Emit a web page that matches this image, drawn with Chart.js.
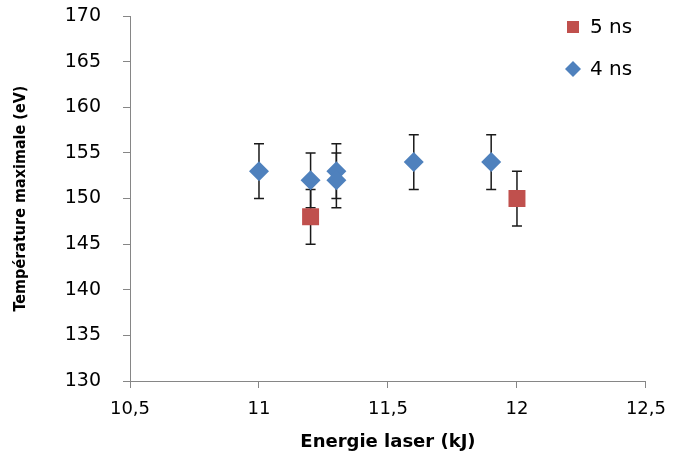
<!DOCTYPE html>
<html>
<head>
<meta charset="utf-8">
<script src="https://cdn.jsdelivr.net/npm/chart.js@4.4.0/dist/chart.umd.min.js"></script>
<style>
  html, body { margin: 0; padding: 0; background: #fff; }
  #wrap { width: 677px; height: 459px; position: relative; }
</style>
</head>
<body>
<div id="wrap"><canvas id="graf"></canvas></div>
<script>
// Données
const serieNoms = ["5 ns", "4 ns"];
const energie5ns = [11.2, 12];
const temp5ns = [148, 150];
const err5ns = [3, 3];
const energie4ns = [11, 11.2, 11.3, 11.3, 11.6, 11.9];
const temp4ns = [153, 152, 153, 152, 154, 154];
const err4ns = [3, 3, 3, 3, 3, 3];

const rouge = "#C0504D", bleu = "#4F81BD", gris = "#868686";

const pts = (xs, ys, es) => xs.map((x, i) => ({ x, y: ys[i], e: es[i] }));

// barres d'erreur, dessinées sous les marqueurs
const barresErreur = {
  id: "barresErreur",
  beforeDatasetsDraw(chart) {
    const { ctx, scales: { x, y } } = chart;
    ctx.save();
    ctx.strokeStyle = "#1a1a1a";
    ctx.lineWidth = 1.5;
    chart.data.datasets.forEach(ds => {
      ds.data.forEach(p => {
        const px = x.getPixelForValue(p.x);
        const hi = y.getPixelForValue(p.y + p.e);
        const lo = y.getPixelForValue(p.y - p.e);
        ctx.beginPath();
        ctx.moveTo(px, hi); ctx.lineTo(px, lo);
        ctx.moveTo(px - 5, hi); ctx.lineTo(px + 5, hi);
        ctx.moveTo(px - 5, lo); ctx.lineTo(px + 5, lo);
        ctx.stroke();
      });
    });
    ctx.restore();
  }
};

// légende en haut à droite, par-dessus la zone du graphique
const legende = {
  id: "legende",
  afterDraw(chart) {
    const ctx = chart.ctx;
    ctx.save();
    ctx.font = "20px 'DejaVu Sans'";
    ctx.textBaseline = "middle";
    ctx.fillStyle = rouge;
    ctx.fillRect(567, 21, 12, 12);
    ctx.fillStyle = bleu;
    ctx.beginPath();
    ctx.moveTo(573, 61); ctx.lineTo(581, 69); ctx.lineTo(573, 77); ctx.lineTo(565, 69);
    ctx.closePath(); ctx.fill();
    ctx.fillStyle = "#000";
    ctx.fillText(serieNoms[0], 590, 28);
    ctx.fillText(serieNoms[1], 590, 70);
    ctx.restore();
  }
};

const chart = new Chart(document.getElementById("graf"), {
  type: "scatter",
  data: {
    datasets: [
      {
        label: serieNoms[0],
        data: pts(energie5ns, temp5ns, err5ns),
        pointStyle: "rect",
        pointRadius: 12,
        pointHoverRadius: 12,
        backgroundColor: rouge,
        borderColor: rouge,
        borderWidth: 0
      },
      {
        label: serieNoms[1],
        data: pts(energie4ns, temp4ns, err4ns),
        pointStyle: "rectRot",
        pointRadius: 10,
        pointHoverRadius: 10,
        backgroundColor: bleu,
        borderColor: bleu,
        borderWidth: 0
      }
    ]
  },
  options: {
    responsive: true,
    maintainAspectRatio: false,
    animation: false,
    layout: { padding: { top: 16, right: 26, left: 0, bottom: 0 } },
    plugins: { legend: { display: false }, tooltip: { enabled: false } },
    scales: {
      x: {
        type: "linear",
        min: 10.5, max: 12.5,
        afterFit: s => { s.height = 78; },
        ticks: {
          stepSize: 0.5,
          color: "#000",
          padding: 11,
          font: { family: "DejaVu Sans", size: 18 },
          callback: v => String(v).replace(".", ",")
        },
        grid: { drawOnChartArea: false, color: gris, tickLength: 7 },
        border: { color: gris, width: 1 },
        title: {
          display: true,
          text: "Energie laser (kJ)",
          color: "#000",
          font: { family: "DejaVu Sans", size: 18, weight: "bold" },
          padding: { top: 0, bottom: 6 }
        }
      },
      y: {
        min: 130, max: 170,
        afterFit: s => { s.width = 130; s.paddingTop = 0; s.paddingBottom = 0; },
        ticks: {
          stepSize: 5,
          color: "#000",
          padding: 22,
          font: { family: "DejaVu Sans", size: 19 }
        },
        grid: { drawOnChartArea: false, color: gris, tickLength: 7 },
        border: { color: gris, width: 1 },
        title: {
          display: true,
          text: "Température maximale (eV)",
          color: "#000",
          font: { family: "'DejaVu Sans Condensed', 'Liberation Sans'", size: 16, weight: "bold" },
          padding: { top: 11, bottom: 0 }
        }
      }
    }
  },
  plugins: [barresErreur, legende]
});
</script>
</body>
</html>
